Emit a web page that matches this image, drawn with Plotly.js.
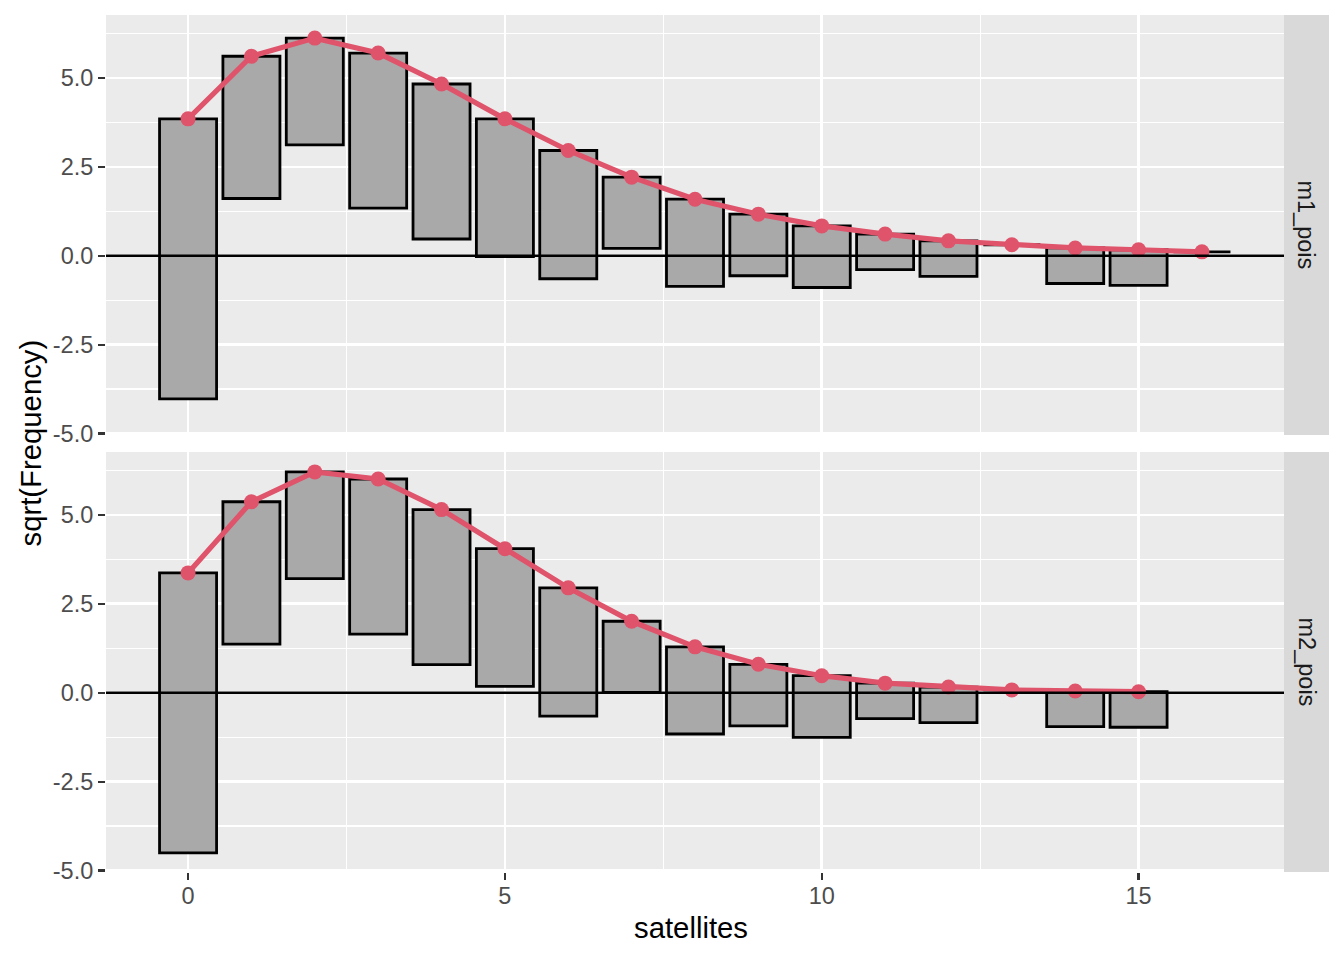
<!DOCTYPE html>
<html>
<head>
<meta charset="utf-8">
<script src="https://cdn.plot.ly/plotly-3.0.1.min.js"></script>
<style>
  html, body { margin: 0; padding: 0; background: #fff; }
  #plot { width: 1344px; height: 960px; }
</style>
</head>
<body>
<div id="plot"></div>
<script>
// crab satellites: observed counts and sqrt(expected) of two poisson fits
const satellites_m1 = [0, 1, 2, 3, 4, 5, 6, 7, 8, 9, 10, 11, 12, 13, 14, 15, 16];
const observed_m1 = [62, 16, 9, 19, 19, 15, 13, 4, 6, 3, 3, 1, 1, 0, 1, 1, 0];
const expected_m1 = [3.85, 5.61, 6.12, 5.70, 4.83, 3.85, 2.96, 2.21, 1.59, 1.17, 0.84, 0.61, 0.42, 0.31, 0.22, 0.17, 0.11];

const satellites_m2 = [0, 1, 2, 3, 4, 5, 6, 7, 8, 9, 10, 11, 12, 13, 14, 15];
const observed_m2 = [62, 16, 9, 19, 19, 15, 13, 4, 6, 3, 3, 1, 1, 0, 1, 1];
const expected_m2 = [3.37, 5.37, 6.21, 6.01, 5.15, 4.05, 2.95, 2.01, 1.29, 0.80, 0.48, 0.27, 0.16, 0.08, 0.05, 0.03];

const panel_labels = ["m1_pois", "m2_pois"];
const y_ticks = [-5, -2.5, 0, 2.5, 5];
const y_tick_text = ["-5.0", "-2.5", "0.0", "2.5", "5.0"];
const x_ticks = [0, 5, 10, 15];

const red = "#DF536B";
const txt = "#4D4D4D";
const font = "Liberation Sans, Arial, sans-serif";

function hanging(xs, obs, exp, xa, ya) {
  const h = obs.map(v => Math.sqrt(v));
  const bars = {
    type: "bar", x: xs, y: h,
    base: exp.map((e, i) => e - h[i]),
    width: 0.9,
    marker: { color: "#A9A9A9", line: { color: "#000", width: 2.8 } },
    xaxis: xa, yaxis: ya, hoverinfo: "skip", showlegend: false
  };
  const curve = {
    type: "scatter", mode: "lines+markers", x: xs, y: exp,
    line: { color: red, width: 5.2 },
    marker: { color: red, size: 15 },
    xaxis: xa, yaxis: ya, showlegend: false
  };
  return [bars, curve];
}

const data = [].concat(
  hanging(satellites_m1, observed_m1, expected_m1, "x2", "y2"),
  hanging(satellites_m2, observed_m2, expected_m2, "x", "y")
);

const yax = {
  range: [-5.04, 6.77],
  tickvals: y_ticks, ticktext: y_tick_text,
  ticks: "outside", ticklen: 7, tickwidth: 2.2, tickcolor: "#333",
  tickfont: { family: font, size: 23.5, color: txt },
  showgrid: true, gridcolor: "#fff", gridwidth: 2.7,
  minor: { dtick: 1.25, tick0: 1.25, showgrid: true, gridcolor: "#fff", gridwidth: 1.3 },
  zeroline: false, showline: false, fixedrange: true
};
const xax = {
  range: [-1.295, 17.295],
  tickvals: x_ticks,
  ticks: "outside", ticklen: 7, tickwidth: 2.2, tickcolor: "#333",
  tickfont: { family: font, size: 23.5, color: txt },
  ticklabelstandoff: -4,
  showgrid: true, gridcolor: "#fff", gridwidth: 2.7,
  minor: { dtick: 2.5, tick0: 2.5, showgrid: true, gridcolor: "#fff", gridwidth: 1.3 },
  zeroline: false, showline: false
};

const layout = {
  width: 1344, height: 960,
  margin: { l: 106, r: 60, t: 15, b: 88 },
  paper_bgcolor: "#fff",
  plot_bgcolor: "#EBEBEB",
  font: { family: font, color: txt },
  bargap: 0,
  xaxis: Object.assign({}, xax, { anchor: "y", domain: [0, 1] }),
  yaxis: Object.assign({}, yax, { anchor: "x", domain: [0, 0.4901] }),
  xaxis2: Object.assign({}, xax, {
    anchor: "y2", matches: "x", domain: [0, 1],
    showticklabels: false, ticks: ""
  }),
  yaxis2: Object.assign({}, yax, { anchor: "x2", domain: [0.5099, 1] }),
  shapes: [
    // reference lines at zero
    { type: "line", xref: "x domain", yref: "y", x0: 0, x1: 1, y0: 0, y1: 0, line: { color: "#000", width: 2.5 }, layer: "above" },
    { type: "line", xref: "x2 domain", yref: "y2", x0: 0, x1: 1, y0: 0, y1: 0, line: { color: "#000", width: 2.5 }, layer: "above" },
    // facet strips
    { type: "rect", xref: "paper", yref: "paper", x0: 1, x1: 1.0382, y0: 0.5099, y1: 1, fillcolor: "#D9D9D9", line: { width: 0 } },
    { type: "rect", xref: "paper", yref: "paper", x0: 1, x1: 1.0382, y0: 0, y1: 0.4901, fillcolor: "#D9D9D9", line: { width: 0 } }
  ],
  annotations: [
    { text: panel_labels[0], xref: "paper", yref: "paper", x: 1.0191, y: 0.755, showarrow: false, textangle: 90,
      xanchor: "center", yanchor: "middle", font: { family: font, size: 23.5, color: "#1A1A1A" } },
    { text: panel_labels[1], xref: "paper", yref: "paper", x: 1.0191, y: 0.245, showarrow: false, textangle: 90,
      xanchor: "center", yanchor: "middle", font: { family: font, size: 23.5, color: "#1A1A1A" } },
    { text: "sqrt(Frequency)", xref: "paper", yref: "paper", x: -0.0645, y: 0.5, showarrow: false, textangle: -90,
      xanchor: "center", yanchor: "middle", font: { family: font, size: 29.3, color: "#000" } },
    { text: "satellites", xref: "paper", yref: "paper", x: 0.4966, y: -0.0653, showarrow: false,
      xanchor: "center", yanchor: "middle", font: { family: font, size: 29.3, color: "#000" } }
  ]
};

Plotly.newPlot("plot", data, layout, { displayModeBar: false, staticPlot: true });
</script>
</body>
</html>
